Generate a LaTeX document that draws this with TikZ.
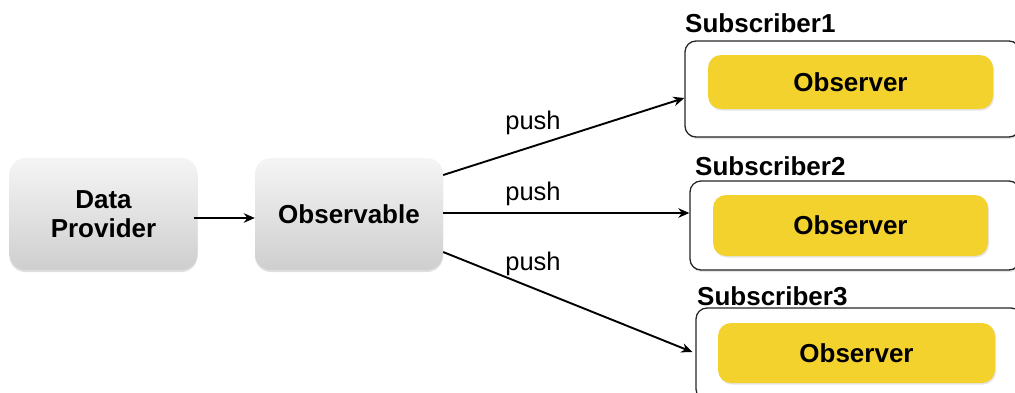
\documentclass[tikz,border=0pt]{standalone}
\usepackage{fontspec}
\setmainfont{Liberation Sans}
\usetikzlibrary{arrows.meta,shadows,calc}
\definecolor{obsyellow}{HTML}{F4D22E}
\tikzset{
  bigfont/.style={font=\bfseries\fontsize{26}{29}\selectfont},
  graybox/.style={rounded corners=16pt, top color=gray!8, bottom color=gray!38,
    draw=none, drop shadow={opacity=0.25, shadow xshift=0pt, shadow yshift=-2pt},
    bigfont, align=center, inner sep=0pt},
  subbox/.style={rounded corners=11pt, draw=black!85, line width=1.3pt, fill=white,
    drop shadow={opacity=0.2, shadow xshift=1pt, shadow yshift=-2pt}, inner sep=0pt},
  obsbox/.style={rounded corners=13pt, fill=obsyellow, draw=none,
    drop shadow={opacity=0.2, shadow xshift=1pt, shadow yshift=-1.5pt},
    bigfont, inner sep=0pt},
  sublabel/.style={bigfont, anchor=west, inner sep=0pt},
  pushlabel/.style={font=\fontsize{25.5}{28}\selectfont, inner sep=0pt},
  flow/.style={line width=1.9pt, -{Stealth[length=11pt,width=9.5pt]}}
}
\begin{document}
\begin{tikzpicture}[x=1pt,y=-1pt]
\useasboundingbox (0,0) rectangle (1015,392);
\clip (0,0) rectangle (1015,392);

% source and stream
\node[graybox, minimum width=188pt, minimum height=112pt] (dp) at (103.5,214) {Data\\Provider};
\node[graybox, minimum width=188pt, minimum height=112pt] (obs) at (349,214) {Observable};

% subscribers, each wrapping one observer
\node[subbox, minimum width=335pt, minimum height=96pt] (sub1) at (852.5,89) {};
\node[obsbox, minimum width=285pt, minimum height=54pt] (obs1) at (850.5,82) {Observer};
\node[sublabel] (lab1) at (685,23) {Subscriber1};

\node[subbox, minimum width=330pt, minimum height=89pt] (sub2) at (855,225.5) {};
\node[obsbox, minimum width=275pt, minimum height=61pt] (obs2) at (850.5,225.5) {Observer};
\node[sublabel] (lab2) at (695,166) {Subscriber2};

\node[subbox, minimum width=326pt, minimum height=92pt] (sub3) at (859,354) {};
\node[obsbox, minimum width=277pt, minimum height=60pt] (obs3) at (856.5,353) {Observer};
\node[sublabel] (lab3) at (697,296) {Subscriber3};

% connectors
\draw[flow] ($(dp.east)+(-4,4)$) -- ($(obs.west)+(0,4)$);
\draw[flow] ($(obs.east)+(0,-39)$) -- ($(sub1.west)+(0,9)$);
\draw[flow] ($(obs.east)+(0,-1)$) -- ($(sub2.west)+(0,-12.5)$);
\draw[flow] ($(obs.east)+(0,38)$) -- ($(sub3.west)+(-3,-2)$);

% connector labels
\node[pushlabel] (p1) at (533,123) {push};
\node[pushlabel] (p2) at (533,194) {push};
\node[pushlabel] (p3) at (533,264) {push};
\end{tikzpicture}
\end{document}
